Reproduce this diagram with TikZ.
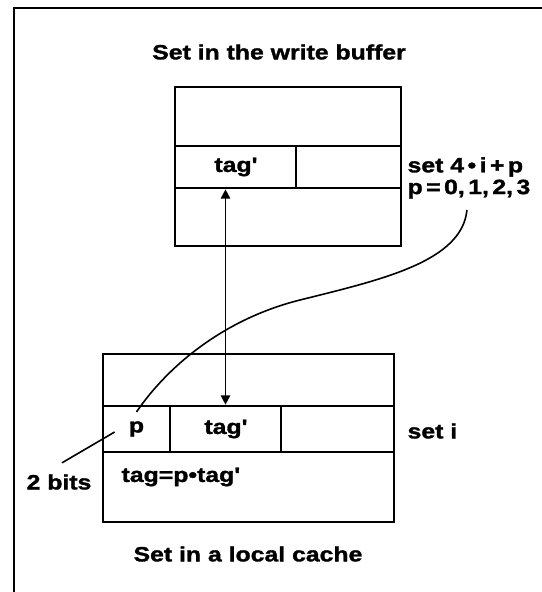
\documentclass[tikz,border=0pt]{standalone}
\usepackage{fontspec}
\setmainfont{Liberation Sans}[FakeStretch=1.2,BoldFeatures={FakeBold=1.5}]
\usetikzlibrary{calc,arrows.meta}

\begin{document}
\begin{tikzpicture}[x=0.75pt,y=-0.75pt,
  lbl/.style={font=\bfseries\fontsize{15.5}{18}\selectfont,inner sep=1pt},
  cell/.style={lbl,draw,line width=2pt,inner sep=0pt},
  wire/.style={line width=1.2pt}]
  \path[use as bounding box,clip] (0,0) rectangle (542,592);
  \fill[white] (0,0) rectangle (542,592);
  \draw[line width=1.6pt] (14,620) -- (14,8) -- (580,8);
  \node[lbl] (wtitle) at (279,52) {Set in the write buffer};
  \node[cell,minimum width=169.5pt,minimum height=44.25pt] (wtop) at (288,116.5) {};
  \node[cell,minimum width=90.75pt,minimum height=31.5pt] (wtag) at (235.5,167) {tag\textquotesingle};
  \node[cell,minimum width=78.75pt,minimum height=31.5pt] (wfree) at (348.5,167) {};
  \node[cell,minimum width=169.5pt,minimum height=43.5pt] (wbot) at (288,217) {};
  \node[lbl,anchor=west] (wset) at (406,167) {set 4\,•\,i\,+\,p};
  \node[lbl,anchor=west] (range) at (406,189) {p\,=\,0,\,1,\,2,\,3};
  \node[cell,minimum width=218.25pt,minimum height=39pt] (ltop) at (248.5,380) {};
  \node[cell,minimum width=50.25pt,minimum height=34.5pt] (lp) at (136.5,429) {p};
  \node[cell,minimum width=83.25pt,minimum height=34.5pt] (ltag) at (225.5,429) {tag\textquotesingle};
  \node[cell,minimum width=84.75pt,minimum height=34.5pt] (lfree) at (337.5,429) {};
  \node[cell,minimum width=218.25pt,minimum height=52.5pt] (lbot) at (248.5,487) {};
  \node[lbl,anchor=west] (lset) at (406,431) {set i};
  \node[lbl,anchor=west] (formula) at (120,477) {tag=p•tag\textquotesingle};
  \node[lbl] (bits) at (59,482) {2 bits};
  \node[lbl] (ltitle) at (248,554) {Set in a local cache};
  \coordinate (bend) at (300,300);
  \draw[wire,{Triangle[length=7pt,width=7pt]}-{Triangle[length=7pt,width=7pt]}]
    (ltag.north |- wtag.south) -- (ltag.north);
  \draw[wire] ($(range.south)+(-2,10)$) .. controls (462,262) and (380,280) .. (bend)
    .. controls (220,320) and (165,370) .. ($(lp.north)!0.3!(lp.center)$);
  \draw[wire] ($(bits.north)+(3,-10)$) -- ($(lp.west)+(13,3)$);
\end{tikzpicture}
\end{document}
